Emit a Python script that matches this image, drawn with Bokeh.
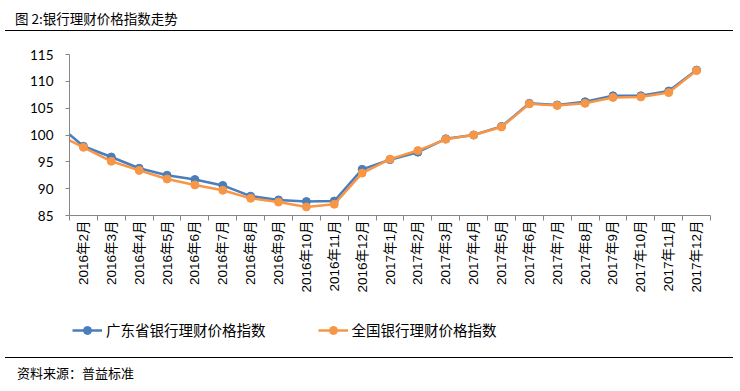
import math
from bokeh.plotting import figure
from bokeh.models import (Range1d, LinearAxis, FixedTicker, Legend, LegendItem, Div,
                          ColumnDataSource)
from bokeh.layouts import column
from bokeh.embed import file_html
from bokeh.resources import INLINE

# ---------------- data ----------------
months = ["2016年2月", "2016年3月", "2016年4月", "2016年5月", "2016年6月", "2016年7月",
          "2016年8月", "2016年9月", "2016年10月", "2016年11月", "2016年12月",
          "2017年1月", "2017年2月", "2017年3月", "2017年4月", "2017年5月", "2017年6月",
          "2017年7月", "2017年8月", "2017年9月", "2017年10月", "2017年11月", "2017年12月"]
guangdong = [97.9, 95.9, 93.8, 92.5, 91.7, 90.6, 88.6, 87.9, 87.6, 87.7, 93.6,
             95.4, 96.8, 99.3, 100.0, 101.6, 105.9, 105.6, 106.2, 107.3, 107.3, 108.2, 112.1]
national = [97.7, 95.1, 93.4, 91.8, 90.7, 89.7, 88.2, 87.5, 86.6, 87.1, 92.9,
            95.5, 97.1, 99.2, 100.0, 101.5, 105.8, 105.5, 105.9, 107.0, 107.1, 107.9, 112.0]
# index level where each line meets the left axis
guangdong_edge = 100.1
national_edge = 99.0
series_names = ["广东省银行理财价格指数", "全国银行理财价格指数"]
y_ticks = [85, 90, 95, 100, 105, 110, 115]
title_text = "图 2:银行理财价格指数走势"
source_text = "资料来源：普益标准"

BLUE = "#4A7EBB"
ORANGE = "#F79646"
CJK = "Noto Sans CJK SC"

n = len(months)
x_start, x_end = -0.5, n - 0.5
xs = list(range(n))

p = figure(width=728, height=273, output_backend="svg", toolbar_location=None,
           x_range=Range1d(x_start, x_end), y_range=Range1d(y_ticks[0], y_ticks[-1]),
           x_axis_location=None, min_border_left=69, min_border_right=18,
           min_border_top=18, min_border_bottom=94)
p.outline_line_color = None
p.xgrid.visible = False
p.ygrid.visible = False
p.background_fill_color = "white"
p.border_fill_color = "white"

# y axis
ya = p.yaxis[0]
ya.ticker = FixedTicker(ticks=y_ticks, minor_ticks=[])
ya.axis_line_color = "#868686"
ya.major_tick_line_color = "#868686"
ya.major_tick_out = 4
ya.major_tick_in = 0
ya.minor_tick_line_color = None
ya.major_label_standoff = 12
ya.major_label_text_font = "Lato"
ya.major_label_text_font_size = "13.5px"
ya.major_label_text_color = "#000000"

# x axis: boundary ticks
tick_axis = LinearAxis(ticker=FixedTicker(ticks=[x_start + i for i in range(n + 1)], minor_ticks=[]))
tick_axis.axis_line_color = "#868686"
tick_axis.major_tick_line_color = "#868686"
tick_axis.major_tick_out = 5
tick_axis.major_tick_in = 0
tick_axis.minor_tick_line_color = None
tick_axis.major_label_text_font_size = "1px"
tick_axis.major_label_text_alpha = 0
tick_axis.major_label_standoff = 0
p.add_layout(tick_axis, "below")

# x axis: category labels
label_axis = LinearAxis(ticker=FixedTicker(ticks=xs, minor_ticks=[]))
label_axis.major_label_overrides = {i: m for i, m in enumerate(months)}
label_axis.axis_line_color = None
label_axis.major_tick_line_color = None
label_axis.minor_tick_line_color = None
label_axis.major_tick_out = 0
label_axis.major_tick_in = 0
label_axis.major_label_standoff = 0
label_axis.major_label_orientation = math.pi / 2
label_axis.major_label_text_font = "Liberation Sans, " + CJK
label_axis.major_label_text_font_size = "13.5px"
label_axis.major_label_text_color = "#000000"
p.add_layout(label_axis, "below")

src_gd = ColumnDataSource(dict(x=[x_start] + xs, y=[guangdong_edge] + guangdong))
src_nat = ColumnDataSource(dict(x=[x_start] + xs, y=[national_edge] + national))
pts_gd = ColumnDataSource(dict(x=xs, y=guangdong))
pts_nat = ColumnDataSource(dict(x=xs, y=national))

p.line("x", "y", source=src_gd, line_color=BLUE, line_width=2.5)
p.scatter("x", "y", source=pts_gd, size=8, fill_color=BLUE, line_color=BLUE)
p.line("x", "y", source=src_nat, line_color=ORANGE, line_width=2.5)
p.scatter("x", "y", source=pts_nat, size=8, fill_color=ORANGE, line_color=ORANGE)

# ---- legend strip (separate canvas so the legend is not clipped by the chart frame)
lf = figure(width=728, height=43, output_backend="svg", toolbar_location=None,
            x_range=Range1d(0, 1), y_range=Range1d(0, 1),
            x_axis_location=None, y_axis_location=None,
            min_border_left=0, min_border_right=0, min_border_top=0, min_border_bottom=0)
lf.outline_line_color = None
lf.xgrid.visible = False
lf.ygrid.visible = False
# series glyphs on the legend canvas lie outside its 0..1 view; only their legend swatches show
g1 = lf.line(xs, guangdong, line_color=BLUE, line_width=2.5)
s1 = lf.scatter(xs, guangdong, size=7, fill_color=BLUE, line_color=BLUE)
g2 = lf.line(xs, national, line_color=ORANGE, line_width=2.5)
s2 = lf.scatter(xs, national, size=7, fill_color=ORANGE, line_color=ORANGE)

legend = Legend(items=[LegendItem(label=series_names[0], renderers=[g1, s1]),
                       LegendItem(label=series_names[1], renderers=[g2, s2])],
                location=(3, 12), orientation="horizontal")
legend.padding = 0
legend.margin = 0
legend.spacing = 52
legend.glyph_width = 30
legend.glyph_height = 20
legend.label_standoff = 4
legend.border_line_color = None
legend.background_fill_alpha = 0
legend.label_text_font = CJK
legend.label_text_font_size = "14.5px"
legend.label_text_color = "#000000"
lf.add_layout(legend)

title_div = Div(text=title_text, width=728, height=26,
                styles={"font-family": CJK, "font-size": "13.5px", "color": "#000",
                        "border-bottom": "1.5px solid #000", "padding-left": "10px",
                        "line-height": "26px", "box-sizing": "border-box"})
footer_div = Div(text=source_text, width=728, height=24,
                 styles={"font-family": CJK, "font-size": "13px", "color": "#000",
                         "border-top": "1.5px solid #000", "padding-left": "12px",
                         "line-height": "30px", "box-sizing": "border-box",
                         "overflow": "visible"})

layout = column(title_div, p, lf, footer_div, spacing=0)
open("out.html", "w").write(file_html(layout, INLINE))
